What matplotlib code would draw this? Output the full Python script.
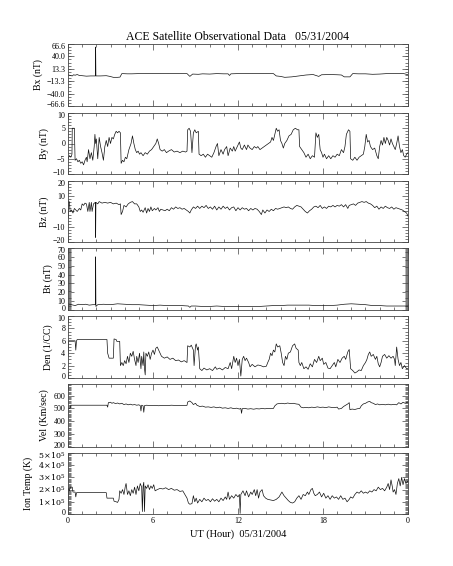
import matplotlib
matplotlib.use("Agg")
import matplotlib.pyplot as plt
from matplotlib.ticker import MultipleLocator
from matplotlib.transforms import ScaledTranslation

plt.rcParams['font.family'] = ['Liberation Serif', 'DejaVu Serif']
plt.rcParams['mathtext.fontset'] = 'dejavuserif'

# ---------------- data (hours, values) ----------------
bx_t = [0.0, 0.15, 0.3, 0.4, 0.5, 0.65, 0.8, 1.0, 1.3, 1.6, 1.93, 1.95, 1.97, 2.3, 2.7, 2.96, 3.2, 3.5, 3.67,
        3.8, 4.2, 4.5, 5.0, 5.5, 6.0, 6.5, 7.0, 7.5, 8.0, 8.4, 8.6, 8.8, 9.2, 9.5, 10.0, 10.5, 11.0, 11.3, 11.4,
        11.5, 12.0, 12.5, 13.0, 13.5, 14.0, 14.5, 14.7, 15.0, 15.3, 15.8, 16.3, 16.8, 17.3, 17.7, 17.9, 18.5,
        19.0, 19.3, 19.5, 19.9, 20.1, 20.5, 21.0, 21.5, 22.0, 22.5, 23.0, 23.4, 23.7, 24.0]
bx_v = [0.5, -1.0, -2.0, 0.5, -0.5, 1.0, -1.0, -1.5, -2.5, -2.0, -2.0, 60.0, -2.0, -2.0, -1.5, -3.0, -5.0, -5.0, -4.5,
        3.0, 2.5, 2.5, 3.0, 3.0, 3.5, 3.5, 3.0, 3.5, 3.0, 3.0, -3.0, 2.0, 1.5, 2.5, 2.0, 3.0, 2.5, 2.5, -1.0,
        2.5, 3.0, 3.0, 3.5, 3.5, 3.0, 3.0, -2.0, -3.0, -5.0, -4.0, -2.0, 0.0, 1.0, -3.0, 0.5, 1.0,
        0.5, 0.0, -4.0, -4.0, 3.0, 2.5, 2.5, 1.5, 2.0, 3.0, 3.0, 3.5, 3.0, 0.5]

by_t = [0.0, 0.1, 0.2, 0.28, 0.3, 0.45, 0.5, 0.6, 0.7, 0.8, 0.9, 1.0, 1.1, 1.2, 1.3, 1.35, 1.45, 1.55,
        1.65, 1.75, 1.85, 1.9, 1.95, 2.0, 2.1, 2.2, 2.3, 2.4, 2.5, 2.6, 2.7, 2.8, 2.9, 3.0, 3.1, 3.2,
        3.3, 3.4, 3.5, 3.6, 3.7, 3.75, 3.85, 3.95, 4.05, 4.15, 4.3, 4.45, 4.55, 4.65, 4.75, 4.85, 4.95,
        5.05, 5.15, 5.3, 5.45, 5.6, 5.75, 5.9, 6.05, 6.2, 6.3, 6.4, 6.5, 6.65, 6.8, 6.95, 7.1, 7.3,
        7.5, 7.7, 7.9, 8.1, 8.3, 8.4, 8.45, 8.55, 8.65, 8.75, 8.85, 8.95, 9.05, 9.2, 9.25, 9.4, 9.55,
        9.7, 9.85, 10.0, 10.15, 10.3, 10.45, 10.55, 10.65, 10.8, 10.95, 11.05, 11.2, 11.3, 11.45, 11.6,
        11.7, 11.8, 11.95, 12.1, 12.2, 12.3, 12.45, 12.6, 12.7, 12.85, 13.0, 13.15, 13.3, 13.4, 13.55,
        13.7, 13.85, 14.0, 14.15, 14.3, 14.4, 14.5, 14.6, 14.7, 14.8, 14.9, 15.0, 15.1, 15.2, 15.3,
        15.45, 15.6, 15.75, 15.9, 16.05, 16.2, 16.3, 16.35, 16.5, 16.65, 16.8, 16.95, 17.1, 17.25,
        17.4, 17.5, 17.6, 17.7, 17.8, 17.9, 18.0, 18.1, 18.25, 18.4, 18.55, 18.7, 18.85, 19.0, 19.15,
        19.3, 19.45, 19.55, 19.65, 19.8, 19.9, 19.95, 20.1, 20.25, 20.4, 20.55, 20.7, 20.85, 20.95,
        21.05, 21.15, 21.25, 21.35, 21.5, 21.65, 21.8, 21.9, 22.0, 22.1, 22.2, 22.3, 22.4, 22.5, 22.6,
        22.7, 22.8, 22.9, 23.0, 23.1, 23.2, 23.3, 23.4, 23.5, 23.6, 23.7, 23.8, 23.9, 24.0]
by_v = [-5, -4, -4.5, -3.5, 5, 5, -5.5, -5, -6, -5.5, -6.5, -6, -7, -5.5, -4.5, -6, -2, -5,
        -3, -5.5, -1, 3, 0, 1.5, -5, 2, -1, -3, -5.5, -1, 1, -1, 2, 0, 2, 1.5,
        3, 4, 3.5, 4, 3.5, -6.5, -5.5, -6, -4.5, -5, -2, 0, 2.5, 0, -2, -3, -2.5,
        -3.5, -3, -4, -3, -3.5, -2.5, -2, -1, 0, 1.5, 0, -2, -2.5, -2, -3, -2.5, -2,
        -2.8, -2.5, -3, -2.5, -2.8, -2.5, 4.5, 5, 4, -3, 3.5, 4.5, 3.5, 4, -3.5, -4, -3.5,
        -4.5, -3.5, -4, -4.5, -3, -1, 0, -4, -2, -3.5, -2, -1, -4, -1.5, -2.5,
        -1, -2.5, -1, 0.5, -1.5, -2, -0.5, -2, -0.5, -1.5, -2, -1, -1.5, -1, -2,
        -1.5, -1, -0.5, 0, 0.5, 2, 1, 3, 5, 4, 4.5, 1, 0, -1.5, 0,
        1, 2.5, 3, 4.5, 5, 4.5, 4.5, -1, -2, -3, -4.5, -3.5, -5, -4,
        -4.5, 3.5, 2, 3, -2, -3, -4.5, -3.5, -5, -4, -5, -4, -4.5, -3.5, -4,
        -2, -3, -1, 3, 4.5, 4, -5, -5.5, -4.5, -5.5, -4.5, -4, -3.5, -1,
        3, 0.5, 1, -1, -2, -1.5, -4, -5, -1, 1, -0.5, 2, 0, 2, 1,
        -0.5, 1.5, 0, -1, -2, 0, 2.5, -1, -3, -2, -4, -4.5, -3.5, -3]

bz_t = [0.0, 0.03, 0.05, 0.1, 0.15, 0.25, 0.35, 0.45, 0.55, 0.65, 0.8, 0.9, 1.0, 1.1, 1.2, 1.3, 1.4,
        1.5, 1.55, 1.65, 1.7, 1.8, 1.93, 1.95, 1.97, 2.1, 2.2, 2.4, 2.6, 2.8, 3.0, 3.2, 3.4, 3.6, 3.7,
        3.75, 3.85, 3.95, 4.1, 4.25, 4.4, 4.55, 4.7, 4.85, 5.0, 5.1, 5.2, 5.3, 5.45, 5.55, 5.65, 5.75,
        5.85, 5.95, 6.1, 6.2, 6.35, 6.45, 6.55, 6.7, 6.85, 7.0, 7.15, 7.3, 7.45, 7.6, 7.75, 7.9, 8.05,
        8.2, 8.35, 8.5, 8.6, 8.7, 8.85, 9.0, 9.15, 9.3, 9.45, 9.6, 9.75, 9.9, 10.05, 10.2, 10.35, 10.5,
        10.65, 10.8, 10.95, 11.1, 11.25, 11.4, 11.55, 11.7, 11.85, 12.0, 12.15, 12.3, 12.45, 12.6, 12.75,
        12.9, 13.05, 13.2, 13.35, 13.5, 13.65, 13.75, 13.9, 14.05, 14.2, 14.35, 14.5, 14.65, 14.8, 14.95,
        15.1, 15.25, 15.4, 15.55, 15.7, 15.85, 16.0, 16.15, 16.3, 16.45, 16.6, 16.75, 16.9, 17.05, 17.2,
        17.35, 17.5, 17.65, 17.8, 17.95, 18.1, 18.25, 18.4, 18.55, 18.7, 18.85, 19.0, 19.15, 19.3, 19.45,
        19.6, 19.75, 19.85, 20.0, 20.15, 20.3, 20.45, 20.6, 20.75, 20.9, 21.05, 21.2, 21.35, 21.5, 21.65,
        21.8, 21.95, 22.1, 22.25, 22.4, 22.55, 22.7, 22.85, 23.0, 23.15, 23.3, 23.45, 23.6, 23.75, 23.9, 24.0]
bz_v = [-4, -4, 7, 6, 0, 1, -1, 2, 1, 0, 2, 1, 5, 4, 5.5, 5, 0,
        6, 0, 6, 0, 5, 6, -17, 6, 5, 6.5, 5.5, 6, 5.5, 6, 5, 5.5, 4.5, 5,
        -2, 0, 4, 3, 5, 6, 6.5, 5, 5, 3, 0, 1, -0.5, 2.5, -1, 2, 0,
        3, 0.5, 2, 1, 2.5, 0, 1.5, 1, 0.5, 1.5, 0.5, 2.5, 1.5, 3, 2, 2.5, 1.5,
        2, 1, 0, -1, 1, 3, 2, 3.5, 2, 3.5, 2.5, 4, 2, 3, 1.5, 3.5, 1,
        3, 1.5, 3.5, 2, 3, 1, 2.5, 3, 0.5, 2.5, 1, 2.5, 1.5, 2, 0.5,
        2, 1, 2, 1.5, 0, -2, 1, -1, 1, 0, 1.5, 0.5, 2, 1.5, 2,
        2.5, 3, 2.5, 3, 2, 1.5, 3, 4, 3.5, 3, 1.5, 0, -1, 0.5, 1.5,
        3, 3.5, 2.5, 4, 2, 3, 2, 3.5, 3, 4, 3, 4, 3.5, 4.5, 3,
        4.5, 2, 4, 4.5, 5, 4, 5.5, 6, 6.5, 6, 6.5, 5.5, 5, 4, 2.5,
        3.5, 1.5, 3, 2, 3.5, 2.5, 2, 3, 1.5, 2.5, 2, 1.5, 1, 0, -1, -3]

bt_t = [0.0, 0.25, 0.5, 0.75, 1.0, 1.25, 1.5, 1.75, 1.93, 1.95, 1.97, 2.1, 2.5, 3.0, 3.5, 4.0, 4.5, 5.0,
        5.5, 6.0, 6.5, 7.0, 7.5, 8.0, 8.5, 8.6, 8.7, 9.0, 9.5, 10.0, 10.5, 11.0, 11.5, 12.0, 12.5, 13.0,
        13.5, 14.0, 14.5, 15.0, 15.5, 16.0, 16.5, 17.0, 17.5, 18.0, 18.5, 19.0, 19.5, 20.0, 20.5, 21.0,
        21.5, 22.0, 22.5, 23.0, 23.5, 24.0]
bt_v = [7.0, 6.0, 5.0, 6.5, 6.0, 6.5, 5.5, 6.0, 6.0, 60.0, 4.0, 6.0, 6.5, 6.0, 7.0, 6.5, 6.0, 6.0,
        5.5, 5.0, 5.5, 5.0, 5.0, 5.0, 4.5, 3.0, 4.5, 4.5, 4.0, 4.0, 4.5, 4.0, 4.0, 4.0, 4.0, 4.0,
        4.0, 4.5, 5.0, 5.0, 5.5, 5.5, 5.5, 5.5, 5.0, 5.0, 5.0, 5.5, 6.5, 7.0, 6.5, 6.0,
        5.0, 5.0, 4.5, 4.5, 4.5, 4.5]

den_t = [0.0, 0.04, 0.5, 0.55, 0.6, 0.65, 2.75, 2.8, 2.9, 3.2, 3.25, 3.4, 3.45, 3.65, 3.7, 3.8, 3.9,
         4.0, 4.1, 4.2, 4.3, 4.4, 4.5, 4.6, 4.7, 4.8, 4.85, 4.95, 5.05, 5.15, 5.2, 5.3, 5.35, 5.4, 5.45,
         5.5, 5.6, 5.7, 5.8, 5.9, 6.0, 6.1, 6.2, 6.3, 6.4, 6.5, 6.6, 6.8, 7.0, 7.2, 7.4, 7.6, 7.8,
         8.0, 8.2, 8.4, 8.45, 8.6, 8.7, 8.85, 8.9, 9.0, 9.05, 9.15, 9.2, 9.3, 9.45, 9.6, 9.8, 10.0,
         10.2, 10.4, 10.5, 10.7, 10.9, 11.1, 11.3, 11.45, 11.55, 11.7, 11.8, 11.9, 12.0, 12.1, 12.2,
         12.3, 12.4, 12.5, 12.6, 12.75, 12.85, 13.0, 13.2, 13.4, 13.6, 13.8, 14.0, 14.1, 14.2, 14.3,
         14.4, 14.5, 14.6, 14.7, 14.8, 14.95, 15.05, 15.15, 15.25, 15.35, 15.45, 15.55, 15.7, 15.85,
         16.0, 16.1, 16.25, 16.3, 16.4, 16.5, 16.65, 16.8, 16.95, 17.1, 17.25, 17.4, 17.55, 17.7,
         17.8, 17.95, 18.05, 18.2, 18.35, 18.5, 18.65, 18.8, 18.9, 19.05, 19.2, 19.35, 19.5, 19.6,
         19.75, 19.85, 19.95, 20.1, 20.25, 20.4, 20.55, 20.7, 20.85, 21.0, 21.1, 21.2, 21.3, 21.4,
         21.55, 21.7, 21.8, 21.9, 22.0, 22.1, 22.2, 22.35, 22.5, 22.65, 22.8, 22.95, 23.05, 23.1,
         23.2, 23.3, 23.4, 23.5, 23.6, 23.75, 23.9, 24.0]
den_v = [3.5, 6.0, 6.0, 4.5, 6.0, 6.2, 6.2, 4.0, 3.2, 3.2, 6.3, 6.2, 5.9, 5.9, 2.0, 2.5, 2.0,
         2.8, 2.3, 3.5, 2.5, 4.0, 3.5, 4.3, 3.0, 2.0, 3.5, 2.5, 4.0, 1.5, 3.5, 2.0, 4.2, 1.5, 0.5,
         4.0, 3.5, 4.2, 3.0, 4.0, 4.5, 3.8, 4.8, 5.0, 4.5, 4.0, 3.5, 3.2, 3.4, 3.0, 3.2, 2.8, 2.9,
         2.6, 2.8, 2.5, 5.2, 5.0, 5.3, 4.5, 2.0, 5.2, 5.5, 4.5, 5.0, 1.5, 1.2, 1.6, 1.3, 1.5,
         1.2, 1.8, 1.4, 1.6, 1.3, 1.7, 1.5, 2.5, 1.5, 3.5, 2.5, 3.2, 2.0, 3.0, 0.3,
         3.0, 3.5, 2.8, 3.2, 2.5, 1.8, 2.2, 1.8, 2.1, 2.0, 1.8, 1.9, 2.5, 3.0, 4.0,
         3.6, 4.5, 4.2, 5.5, 5.0, 5.2, 4.0, 2.5, 2.0, 3.5, 3.0, 4.0, 4.2, 5.2,
         5.5, 4.8, 4.5, 2.5, 2.0, 2.5, 1.5, 1.8, 1.4, 2.3, 1.8, 3.0, 2.5, 3.5,
         2.8, 3.2, 2.2, 2.5, 1.6, 1.5, 2.0, 2.5, 1.8, 3.0, 2.5, 3.2, 3.5, 3.0,
         4.2, 4.6, 1.5, 1.2, 0.8, 1.0, 1.3, 1.2, 2.0, 2.5, 3.0, 3.8, 4.2, 3.5,
         3.8, 3.0, 3.5, 2.3, 1.8, 2.5, 3.5, 3.8, 3.2, 3.6, 3.2, 3.5, 3.0, 2.0,
         5.0, 3.0, 2.0, 2.5, 1.5, 2.0, 1.5, 1.5]

vel_t = [0.0, 0.15, 0.2, 2.75, 2.8, 2.85, 3.0, 3.1, 3.2, 3.35, 3.5, 3.65, 3.8, 3.95, 4.1, 4.25, 4.4,
         4.55, 4.7, 4.85, 5.0, 5.1, 5.15, 5.2, 5.3, 5.35, 5.4, 5.55, 5.8, 6.1, 6.4, 6.7, 7.0, 7.3, 7.6,
         7.9, 8.2, 8.4, 8.45, 8.6, 8.75, 8.85, 9.0, 9.1, 9.3, 9.5, 9.7, 9.9, 10.1, 10.3, 10.5, 10.7,
         10.9, 11.1, 11.3, 11.5, 11.7, 11.9, 12.1, 12.2, 12.25, 12.3, 12.5, 12.7, 12.9, 13.1, 13.3,
         13.5, 13.7, 13.9, 14.1, 14.3, 14.5, 14.6, 14.75, 14.9, 15.1, 15.3, 15.5, 15.7, 15.9, 16.1,
         16.3, 16.45, 16.6, 16.8, 17.0, 17.2, 17.4, 17.6, 17.8, 18.0, 18.2, 18.4, 18.6, 18.8, 19.0,
         19.1, 19.3, 19.45, 19.6, 19.75, 19.85, 19.9, 20.05, 20.25, 20.45, 20.6, 20.7, 20.85, 21.0,
         21.15, 21.3, 21.4, 21.55, 21.7, 21.85, 22.0, 22.2, 22.4, 22.6, 22.8, 23.0, 23.2, 23.35, 23.5,
         23.65, 23.8, 24.0]
vel_v = [500, 500, 525, 525, 510, 545, 548, 540, 545, 538, 542, 535, 540, 530, 535, 528, 533,
         527, 530, 525, 528, 522, 480, 525, 520, 470, 522, 525, 522, 524, 521, 524, 522, 525, 523,
         524, 522, 524, 550, 558, 545, 530, 540, 525, 515, 518, 510, 512, 508, 512, 505, 510,
         502, 505, 500, 505, 498, 502, 495, 500, 462, 498, 500, 495, 498, 494, 498,
         496, 500, 497, 500, 498, 500, 520, 535, 538, 540, 536, 542, 538, 540, 535,
         532, 510, 505, 508, 505, 510, 507, 512, 508, 510, 506, 512, 508, 506, 510,
         495, 500, 515, 525, 535, 545, 490, 495, 492, 498, 500, 520, 535, 540,
         550, 555, 545, 540, 530, 535, 528, 532, 528, 533, 528, 532, 528, 545, 535,
         548, 540, 550]

tmp_t = [0.0, 0.02, 0.1, 0.15, 0.3, 0.35, 0.5, 0.55, 0.6, 2.7, 2.75, 3.2, 3.25, 3.4, 3.5, 3.6, 3.65,
         3.75, 3.85, 3.95, 4.05, 4.1, 4.2, 4.3, 4.4, 4.5, 4.6, 4.7, 4.8, 4.9, 5.0, 5.1, 5.2, 5.25,
         5.3, 5.35, 5.4, 5.45, 5.55, 5.65, 5.75, 5.85, 5.95, 6.05, 6.15, 6.3, 6.5, 6.7, 6.9, 7.1,
         7.3, 7.5, 7.7, 7.9, 8.1, 8.25, 8.4, 8.5, 8.6, 8.75, 8.85, 8.95, 9.05, 9.15, 9.3, 9.45,
         9.6, 9.75, 9.9, 10.05, 10.2, 10.35, 10.5, 10.65, 10.8, 10.95, 11.1, 11.2, 11.3, 11.4,
         11.55, 11.7, 11.85, 12.0, 12.1, 12.15, 12.2, 12.35, 12.5, 12.6, 12.75, 12.9, 13.0, 13.15,
         13.25, 13.35, 13.45, 13.55, 13.7, 13.8, 13.95, 14.1, 14.3, 14.5, 14.7, 14.9, 15.0, 15.1,
         15.25, 15.4, 15.55, 15.7, 15.85, 16.0, 16.15, 16.3, 16.45, 16.6, 16.75, 16.9, 17.0, 17.15,
         17.25, 17.35, 17.45, 17.6, 17.75, 17.9, 18.05, 18.2, 18.35, 18.5, 18.65, 18.8, 18.95,
         19.1, 19.25, 19.4, 19.55, 19.7, 19.85, 19.95, 20.1, 20.25, 20.4, 20.55, 20.7, 20.85,
         21.0, 21.15, 21.3, 21.45, 21.6, 21.75, 21.9, 22.05, 22.2, 22.35, 22.5, 22.6, 22.7, 22.8,
         22.9, 22.95, 23.05, 23.15, 23.25, 23.35, 23.45, 23.55, 23.65, 23.75, 23.85, 24.0]
tmp_v = [0.8, 2.1, 1.9, 2.2, 2.2, 1.8, 1.8, 1.4, 1.75, 1.75, 1.3, 1.3, 1.05, 1.0, 0.95, 1.2, 1.9,
         1.7, 2.0, 1.6, 2.3, 2.5, 1.6, 1.9, 1.5, 2.0, 1.7, 2.2, 1.6, 2.3, 1.9, 2.5, 2.2, 0.2,
         2.3, 2.6, 0.2, 2.3, 2.1, 2.4, 2.0, 2.3, 2.1, 2.4, 1.9, 2.0, 2.1, 2.05, 2.15, 2.0,
         2.1, 1.95, 2.0, 1.85, 1.9, 1.6, 1.3, 0.9, 0.8, 0.85, 1.5, 1.0, 1.3, 0.9, 1.2, 1.0,
         1.3, 1.1, 1.2, 1.0, 1.25, 1.05, 1.2, 1.0, 1.3, 1.1, 1.4, 1.2, 1.8, 1.2,
         1.5, 1.3, 1.6, 1.4, 1.6, 0.05, 1.6, 1.9, 1.5, 1.9, 1.4, 1.8, 1.6, 2.0,
         1.5, 2.0, 1.3, 1.8, 2.0, 1.5, 1.3, 1.2, 1.15, 1.1, 1.2, 1.4, 1.6, 1.8,
         1.5, 1.3, 1.1, 0.95, 0.9, 1.0, 1.3, 1.5, 1.2, 1.6, 1.5, 1.8, 1.6, 2.0,
         2.1, 1.7, 1.5, 1.6, 1.8, 1.4, 1.7, 1.3, 1.5, 1.2, 1.5, 1.3, 1.4,
         1.2, 1.5, 1.2, 1.3, 1.0, 1.2, 1.4, 1.3, 1.6, 1.8, 1.7, 1.9, 1.7,
         1.8, 1.7, 1.9, 1.8, 2.0, 1.9, 2.2, 2.0, 2.1, 1.9, 2.2, 2.5, 2.0, 2.8,
         2.2, 1.8, 2.0, 1.6, 2.5, 2.9, 2.3, 3.0, 2.4, 2.9, 2.5, 2.7]

panels = [
    dict(t=bx_t, v=bx_v, ylim=(-66.6, 66.6), label='Bx (nT)',
         ticks=[-66.6, -40.0, -13.3, 13.3, 40.0, 66.6],
         ticklabels=['\u221266.6', '\u221240.0', '\u221213.3', '13.3', '40.0', '66.6'], minor=6.66),
    dict(t=by_t, v=by_v, ylim=(-10, 10), label='By (nT)',
         ticks=[-10, -5, 0, 5, 10], ticklabels=['\u221210', '\u22125', '0', '5', '10'], minor=1),
    dict(t=bz_t, v=bz_v, ylim=(-20, 20), label='Bz (nT)',
         ticks=[-20, -10, 0, 10, 20], ticklabels=['\u221220', '\u221210', '0', '10', '20'], minor=2),
    dict(t=bt_t, v=bt_v, ylim=(0, 70), label='Bt (nT)',
         ticks=[0, 10, 20, 30, 40, 50, 60, 70],
         ticklabels=['0', '10', '20', '30', '40', '50', '60', '70'], minor=1),
    dict(t=den_t, v=den_v, ylim=(0, 10), label='Den (1/CC)',
         ticks=[0, 2, 4, 6, 8, 10], ticklabels=['0', '2', '4', '6', '8', '10'], minor=0.5),
    dict(t=vel_t, v=vel_v, ylim=(200, 690), label='Vel (Km/sec)',
         ticks=[200, 300, 400, 500, 600], ticklabels=['200', '300', '400', '500', '600'], minor=10),
    dict(t=tmp_t, v=tmp_v, ylim=(0, 5), label='Ion Temp (K)',
         ticks=[0, 1, 2, 3, 4, 5],
         ticklabels=['0', r'$1\!\times\!10^5$', r'$2\!\times\!10^5$', r'$3\!\times\!10^5$',
                     r'$4\!\times\!10^5$', r'$5\!\times\!10^5$'], minor=0.1),
]

xticks = [0, 6, 12, 18, 24]
xticklabels = ['0', '6', '12', '18', '0']

W, H = 453, 566
fig = plt.figure(figsize=(W / 100, H / 100), dpi=100)
boxes = [(44, 106), (113, 174), (181, 242), (248, 310), (316, 378), (384, 447), (453, 514)]
left, right = 68, 408
fc = '#444444'
shift = 2.2 / 100.0  # inches (~2 px)
for i, (p, (top, bot)) in enumerate(zip(panels, boxes)):
    ax = fig.add_axes([left / W, 1 - bot / H, (right - left) / W, (bot - top) / H])
    ax.plot(p['t'], p['v'], color='#111111', lw=0.5)
    ax.set_xlim(0, 24)
    ax.set_ylim(*p['ylim'])
    ax.set_yticks(p['ticks'])
    ax.set_yticklabels(p['ticklabels'])
    ax.yaxis.set_minor_locator(MultipleLocator(p['minor']))
    ax.set_xticks(xticks)
    ax.xaxis.set_minor_locator(MultipleLocator(1))
    if i == len(panels) - 1:
        ax.set_xticklabels(xticklabels)
        ax.set_xlabel('UT (Hour)  05/31/2004', fontsize=7.5, labelpad=3)
    else:
        ax.set_xticklabels([])
    ax.set_ylabel(p['label'], fontsize=7, labelpad=3)
    ax.tick_params(which='both', direction='in', top=True, right=True, labelsize=5.8,
                   color=fc, width=0.5, pad=2)
    ax.tick_params(which='major', length=4)
    ax.tick_params(which='minor', length=2.5)
    # nudge the end labels inward so neighbouring panels don't collide
    ylo, yhi = p['ylim']
    for tick in ax.yaxis.get_major_ticks():
        loc = tick.get_loc()
        lb = tick.label1
        if abs(loc - ylo) < 1e-9:
            lb.set_transform(lb.get_transform() + ScaledTranslation(0, shift, fig.dpi_scale_trans))
        elif abs(loc - yhi) < 1e-9:
            lb.set_transform(lb.get_transform() + ScaledTranslation(0, -shift, fig.dpi_scale_trans))
    for s in ax.spines.values():
        s.set_linewidth(0.6)
        s.set_color(fc)
    if i == 0:
        ax.set_title('ACE Satellite Observational Data   05/31/2004', fontsize=8.5, pad=3)

fig.savefig('out.png', dpi=100)
